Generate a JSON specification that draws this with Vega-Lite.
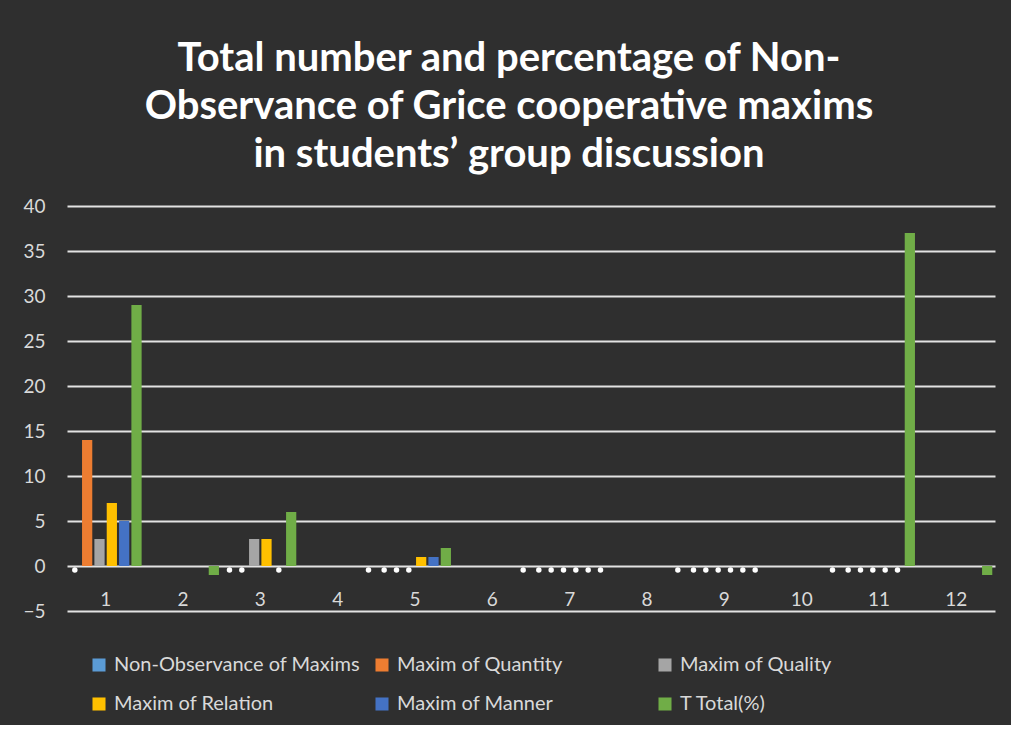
{
  "$schema": "https://vega.github.io/schema/vega-lite/v6.json",
  "width": 928,
  "height": 405,
  "autosize": {"type": "none"},
  "padding": {"left": 67, "top": 206, "right": 16, "bottom": 114},
  "background": "#2f2f2f",
  "config": {
    "font": "Lato",
    "view": {"stroke": null}
  },
  "title": {
    "text": ["Total number and  percentage  of Non-", "Observance of Grice  cooperative  maxims", "in students’  group  discussion"],
    "fontSize": 40,
    "font": "Lato",
    "fontWeight": "bold",
    "color": "#ffffff",
    "lineHeight": 48,
    "anchor": "middle",
    "frame": "bounds",
    "offset": 22
  },
  "data": {
    "values": [
      {"cat": 1, "series": "Non-Observance of Maxims", "value": 0},
      {"cat": 1, "series": "Maxim of Quantity", "value": 14},
      {"cat": 1, "series": "Maxim of Quality", "value": 3},
      {"cat": 1, "series": "Maxim of Relation", "value": 7},
      {"cat": 1, "series": "Maxim of Manner", "value": 5},
      {"cat": 1, "series": "T Total(%)", "value": 29},
      {"cat": 2, "series": "T Total(%)", "value": -1},
      {"cat": 3, "series": "Non-Observance of Maxims", "value": 0},
      {"cat": 3, "series": "Maxim of Quantity", "value": 0},
      {"cat": 3, "series": "Maxim of Quality", "value": 3},
      {"cat": 3, "series": "Maxim of Relation", "value": 3},
      {"cat": 3, "series": "Maxim of Manner", "value": 0},
      {"cat": 3, "series": "T Total(%)", "value": 6},
      {"cat": 4, "series": "T Total(%)", "value": 0},
      {"cat": 5, "series": "Non-Observance of Maxims", "value": 0},
      {"cat": 5, "series": "Maxim of Quantity", "value": 0},
      {"cat": 5, "series": "Maxim of Quality", "value": 0},
      {"cat": 5, "series": "Maxim of Relation", "value": 1},
      {"cat": 5, "series": "Maxim of Manner", "value": 1},
      {"cat": 5, "series": "T Total(%)", "value": 2},
      {"cat": 6, "series": "T Total(%)", "value": 0},
      {"cat": 7, "series": "Non-Observance of Maxims", "value": 0},
      {"cat": 7, "series": "Maxim of Quantity", "value": 0},
      {"cat": 7, "series": "Maxim of Quality", "value": 0},
      {"cat": 7, "series": "Maxim of Relation", "value": 0},
      {"cat": 7, "series": "Maxim of Manner", "value": 0},
      {"cat": 7, "series": "T Total(%)", "value": 0},
      {"cat": 8, "series": "T Total(%)", "value": 0},
      {"cat": 9, "series": "Non-Observance of Maxims", "value": 0},
      {"cat": 9, "series": "Maxim of Quantity", "value": 0},
      {"cat": 9, "series": "Maxim of Quality", "value": 0},
      {"cat": 9, "series": "Maxim of Relation", "value": 0},
      {"cat": 9, "series": "Maxim of Manner", "value": 0},
      {"cat": 9, "series": "T Total(%)", "value": 0},
      {"cat": 10, "series": "T Total(%)", "value": 0},
      {"cat": 11, "series": "Non-Observance of Maxims", "value": 0},
      {"cat": 11, "series": "Maxim of Quantity", "value": 0},
      {"cat": 11, "series": "Maxim of Quality", "value": 0},
      {"cat": 11, "series": "Maxim of Relation", "value": 0},
      {"cat": 11, "series": "Maxim of Manner", "value": 0},
      {"cat": 11, "series": "T Total(%)", "value": 37},
      {"cat": 12, "series": "T Total(%)", "value": -1}
    ]
  },
  "encoding": {
    "x": {
      "field": "cat",
      "type": "ordinal",
      "scale": {"domain": [1,2,3,4,5,6,7,8,9,10,11,12], "paddingInner": 0.07, "paddingOuter": 0.035},
      "axis": {
        "title": null,
        "labelAngle": 0,
        "domain": false,
        "ticks": false,
        "offset": -45,
        "labelPadding": 24,
        "labelFontSize": 19,
        "labelColor": "#d9d9d9",
        "labelFont": "Lato"
      }
    },
    "xOffset": {
      "field": "series",
      "type": "nominal",
      "scale": {
        "domain": ["Non-Observance of Maxims", "Maxim of Quantity", "Maxim of Quality", "Maxim of Relation", "Maxim of Manner", "T Total(%)"],
        "paddingInner": 0.17,
        "paddingOuter": 0
      }
    },
    "y": {
      "field": "value",
      "type": "quantitative",
      "scale": {"domain": [-5, 40], "nice": false, "zero": false},
      "axis": {
        "title": null,
        "values": [-5,0,5,10,15,20,25,30,35,40],
        "grid": true,
        "gridColor": "#e3e3e3",
        "gridWidth": 2,
        "domain": false,
        "ticks": false,
        "labelPadding": 22,
        "labelFontSize": 19,
        "labelColor": "#d9d9d9",
        "labelFont": "Lato"
      }
    }
  },
  "layer": [
    {
      "transform": [{"filter": "datum.value !== 0"}],
      "mark": {"type": "bar"},
      "encoding": {
        "color": {
          "field": "series",
          "type": "nominal",
          "scale": {
            "domain": ["Non-Observance of Maxims", "Maxim of Quantity", "Maxim of Quality", "Maxim of Relation", "Maxim of Manner", "T Total(%)"],
            "range": ["#5b9bd5", "#ed7d31", "#a5a5a5", "#ffc000", "#4472c4", "#70ad47"]
          },
          "legend": {
            "title": null,
            "orient": "none",
            "legendX": 22,
            "legendY": 449,
            "direction": "horizontal",
            "columns": 3,
            "gridAlign": "all",
            "symbolType": "square",
            "symbolSize": 170,
            "symbolStrokeWidth": 0,
            "labelFontSize": 20,
            "labelColor": "#d9d9d9",
            "labelFont": "Lato",
            "labelOffset": 5,
            "labelLimit": 400,
            "rowPadding": 19,
            "columnPadding": 12,
            "values": ["Non-Observance of Maxims", "Maxim of Quantity", "Maxim of Quality", "Maxim of Relation", "Maxim of Manner", "T Total(%)"]
          }
        }
      }
    },
    {
      "transform": [{"filter": "datum.value === 0"}],
      "mark": {"type": "point", "shape": "circle", "filled": true, "color": "#ffffff", "size": 30, "opacity": 1, "yOffset": 4},
      "encoding": {}
    }
  ]
}
